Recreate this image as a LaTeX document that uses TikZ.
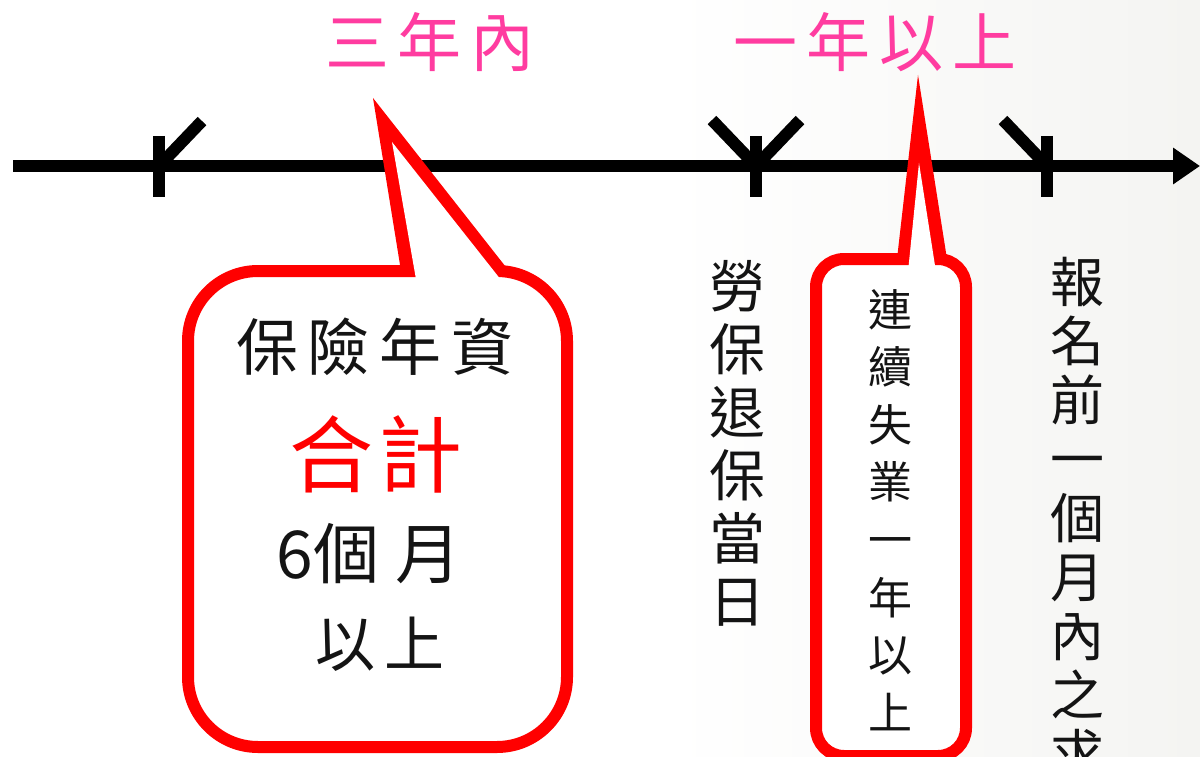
\documentclass[tikz,border=0pt]{standalone}
\usepackage{fontspec}
\setmainfont{Noto Sans CJK TC}
\usetikzlibrary{arrows.meta}
\definecolor{pinkc}{RGB}{255,60,160}
\definecolor{calred}{RGB}{255,0,0}
\definecolor{bgmid}{RGB}{236,236,232}
\definecolor{bggray}{RGB}{205,208,215}
\definecolor{ink}{RGB}{20,20,20}
\pgfdeclarehorizontalshading{bgshade}{100bp}{color(0bp)=(white); color(53bp)=(white); color(91bp)=(bgmid); color(100bp)=(bggray)}
\tikzset{
  axisline/.style={line width=12pt, draw=black},
  tickmark/.style={line width=12pt, draw=black},
  calloutbox/.style={draw=calred, line width=12pt, fill=white},
  pinklabel/.style={text=pinkc, inner sep=0pt, font=\fontsize{64}{70}\selectfont},
  inktext/.style={text=ink, inner sep=0pt, align=center},
}
\begin{document}
\begin{tikzpicture}[x=1pt,y=-1pt]
\useasboundingbox (0,0) rectangle (1200,757);
\clip (0,0) rectangle (1200,757);
\shade[shading=bgshade] (0,0) rectangle (1200,757);

% timeline
\coordinate (tstart) at (13,166);
\coordinate (tend) at (1200,166);
\draw[axisline,-{Triangle[length=27pt,width=35pt]}] (tstart) -- (tend);
\coordinate (t1) at (159,166);
\coordinate (t2) at (756,166);
\coordinate (t3) at (1047,166);
\draw[tickmark] (159,136) -- (159,197);
\draw[tickmark] (t1) -- ++(43,-45);
\draw[tickmark] (756,136) -- (756,197);
\draw[tickmark] (t2) -- ++(-44,-46);
\draw[tickmark] (t2) -- ++(44,-46);
\draw[tickmark] (1047,136) -- (1047,197);
\draw[tickmark] (t3) -- ++(-44,-46);

% callout 1
\draw[calloutbox, rounded corners=70pt] (188,271) rectangle (567,747);
\fill[calred] (373,98) -- (401,271) -- (509,271) -- cycle;
\fill[white] (392,142) -- (417,285) -- (505,285) -- cycle;

% callout 2
\draw[calloutbox, rounded corners=28pt] (816,259) rectangle (966,756);
\fill[calred] (918,75) -- (897,259) -- (947,259) -- cycle;
\fill[white] (919,163) -- (908,272) -- (936,272) -- cycle;

% labels
\node[pinklabel] (lab3y) at (430,42) {三\kern9pt 年\kern9pt 內};
\node[pinklabel] (lab1y) at (875,42) {一\kern9pt 年\kern9pt 以\kern9pt 上};

\node[inktext, font=\fontsize{62}{70}\selectfont] (c1a) at (375,347) {保\kern10pt 險\kern10pt 年\kern10pt 資};
\node[inktext, text=calred, font=\fontsize{84}{90}\selectfont] (c1b) at (376,454) {合\kern5pt 計};
\node[inktext, font=\fontsize{66}{70}\selectfont] (c1c) at (369,554) {6個\kern16pt 月};
\node[inktext, font=\fontsize{60}{70}\selectfont] (c1d) at (380,644) {以\kern10pt 上};

\node[inktext, font=\fontsize{56}{63}\selectfont] (v1) at (737,443) {勞\\保\\退\\保\\當\\日};
\node[inktext, font=\fontsize{44}{57.6}\selectfont] (v2) at (890,510) {連\\續\\失\\業\\一\\年\\以\\上};
\node[inktext, font=\fontsize{54}{59}\selectfont] (v3) at (1077,518) {報\\名\\前\\一\\個\\月\\內\\之\\求};
\end{tikzpicture}
\end{document}
